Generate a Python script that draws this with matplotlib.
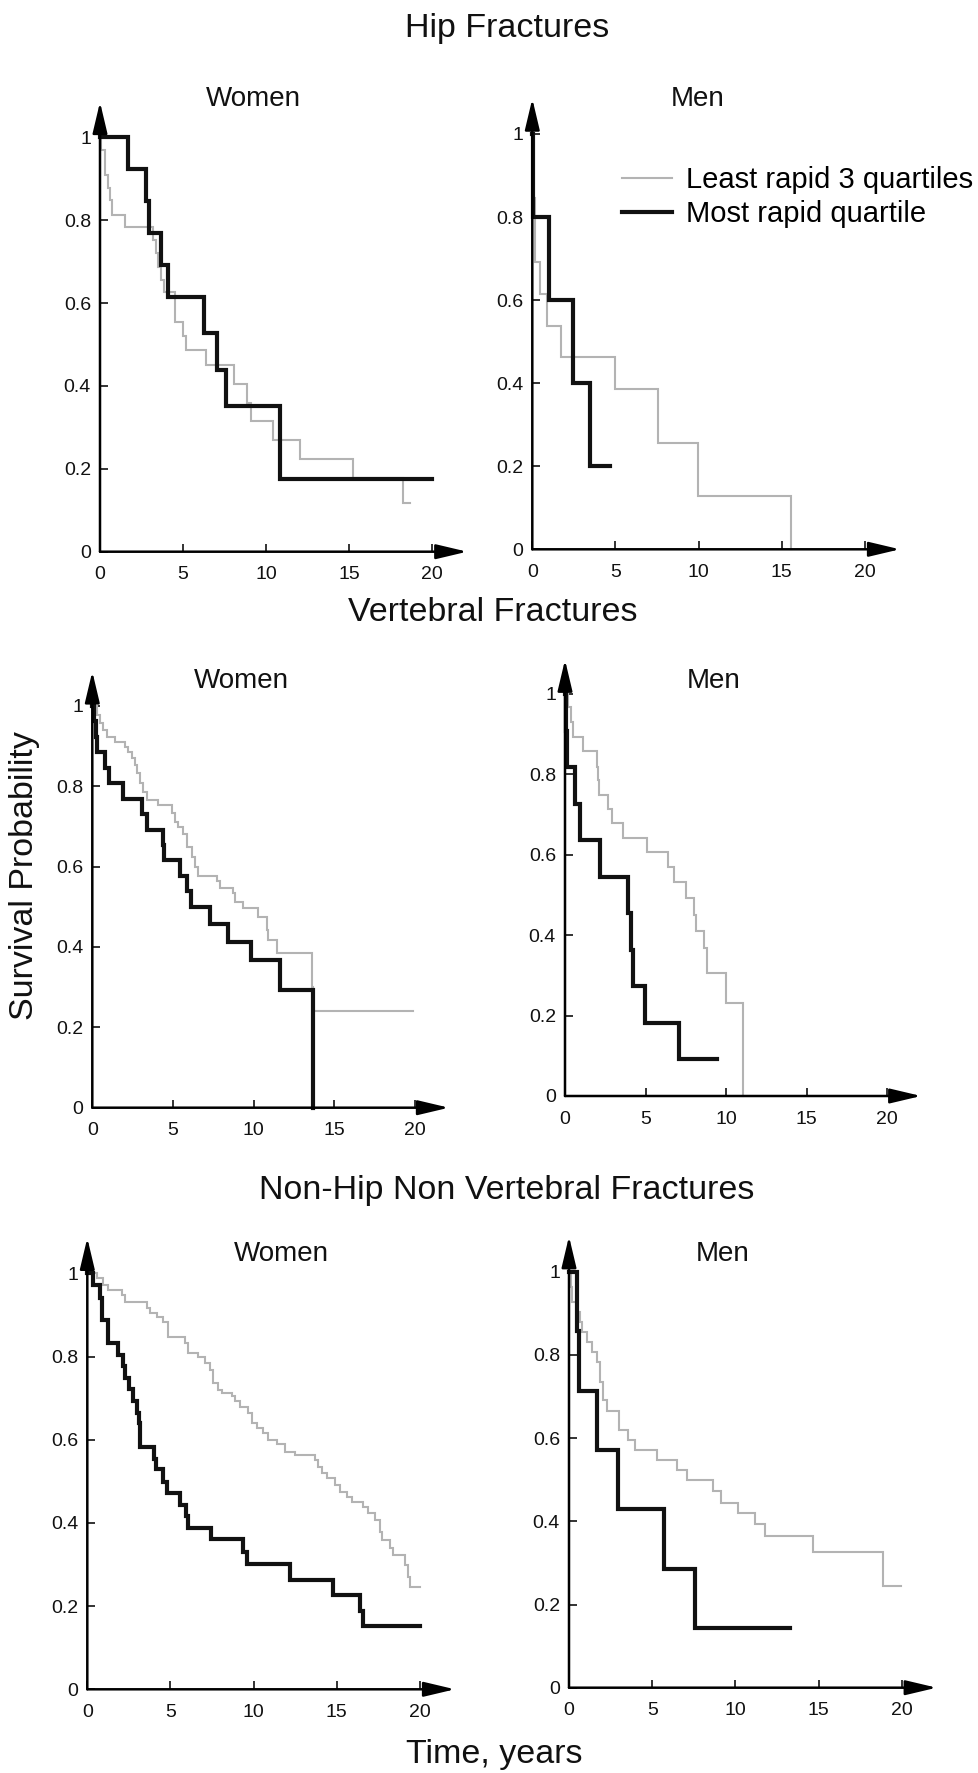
import matplotlib
matplotlib.use('Agg')
import matplotlib.pyplot as plt

plt.rcParams['font.family'] = ['Liberation Sans', 'DejaVu Sans']

W, H = 979, 1773

# ---- data: Kaplan-Meier steps (time in years, survival) ----
# Hip, women
hip_w_slow_t = [0, 0.05, 0.3, 0.5, 0.6, 0.74, 1.5, 3.17, 3.37, 3.51, 3.65, 3.85, 4.51,
                5.02, 5.18, 6.38, 8.06, 8.83, 9.07, 10.43, 12.04, 15.25, 18.26]
hip_w_slow_s = [1.0, 0.969, 0.909, 0.877, 0.849, 0.812, 0.784, 0.752, 0.72, 0.688, 0.656,
                0.626, 0.555, 0.52, 0.487, 0.45, 0.405, 0.36, 0.315, 0.27, 0.224, 0.179, 0.118]
hip_w_slow_end = 18.66
hip_w_fast_t = [0, 1.67, 2.77, 2.97, 3.67, 4.11, 6.28, 7.02, 7.56, 10.83]
hip_w_fast_s = [1.0, 0.923, 0.846, 0.769, 0.692, 0.615, 0.527, 0.439, 0.351, 0.175]
hip_w_fast_end = 20.0

# Hip, men
hip_m_slow_t = [0, 0.06, 0.16, 0.46, 0.9, 1.7, 4.97, 7.53, 9.98, 15.55]
hip_m_slow_s = [1.0, 0.846, 0.692, 0.615, 0.538, 0.462, 0.385, 0.256, 0.128, 0.0]
hip_m_slow_end = 15.55
hip_m_fast_t = [0, 0.05, 1.0, 2.46, 3.47]
hip_m_fast_s = [1.0, 0.8, 0.6, 0.4, 0.2]
hip_m_fast_end = 4.67

# Vertebral, women
vert_w_slow_t = [0, 0.27, 0.48, 0.68, 0.89, 1.40, 2.02, 2.23, 2.44, 2.64, 2.79, 2.95, 3.16,
                 3.37, 4.09, 4.92, 5.12, 5.33, 5.64, 5.85, 6.16, 6.36, 6.57, 7.71, 7.91,
                 8.74, 8.84, 9.36, 10.29, 10.81, 10.91, 11.43, 13.60, 13.70]
vert_w_slow_s = [1.0, 0.977, 0.956, 0.939, 0.923, 0.910, 0.898, 0.886, 0.869, 0.852, 0.832,
                 0.807, 0.786, 0.765, 0.753, 0.732, 0.711, 0.699, 0.682, 0.649, 0.624, 0.600,
                 0.576, 0.565, 0.546, 0.533, 0.512, 0.496, 0.475, 0.442, 0.417, 0.386,
                 0.301, 0.241]
vert_w_slow_end = 19.9
vert_w_fast_t = [0, 0.12, 0.2, 0.27, 0.79, 1.05, 1.88, 3.06, 3.37, 4.4, 4.46, 5.43, 5.85,
                 6.1, 7.29, 8.39, 9.81, 11.63, 13.7]
vert_w_fast_s = [1.0, 0.962, 0.923, 0.885, 0.846, 0.808, 0.769, 0.731, 0.692, 0.654, 0.615,
                 0.577, 0.538, 0.5, 0.458, 0.413, 0.367, 0.294, 0.0]
vert_w_fast_end = 13.7

# Vertebral, men
vert_m_slow_t = [0, 0.21, 0.35, 0.52, 1.14, 2.01, 2.07, 2.13, 2.69, 2.94, 3.58, 5.07, 6.37,
                 6.76, 7.51, 8.00, 8.13, 8.62, 8.79, 9.97, 11.07]
vert_m_slow_s = [1.0, 0.968, 0.931, 0.894, 0.857, 0.819, 0.786, 0.749, 0.713, 0.678, 0.641,
                 0.607, 0.570, 0.533, 0.493, 0.450, 0.410, 0.367, 0.307, 0.231, 0.0]
vert_m_slow_end = 11.07
vert_m_fast_t = [0, 0.05, 0.12, 0.62, 0.93, 2.17, 3.93, 4.1, 4.24, 4.96, 7.09]
vert_m_fast_s = [1.0, 0.909, 0.818, 0.727, 0.636, 0.545, 0.455, 0.364, 0.273, 0.182, 0.091]
vert_m_fast_end = 9.41

# Non-hip non-vertebral, women
nhnv_w_slow_t = [0, 0.56, 0.96, 1.26, 2.06, 2.26, 3.57, 3.77, 4.17, 4.57, 4.87, 5.87, 6.07,
                 6.67, 7.07, 7.37, 7.58, 7.88, 8.08, 8.68, 8.88, 9.18, 9.68, 9.88, 10.18,
                 10.58, 10.88, 11.38, 11.88, 12.48, 13.69, 13.89, 14.09, 14.39, 14.89, 15.19,
                 15.59, 15.89, 16.59, 16.89, 17.29, 17.60, 17.70, 18.20, 18.40, 19.10, 19.30,
                 19.40]
nhnv_w_slow_s = [1.0, 0.988, 0.972, 0.960, 0.948, 0.932, 0.916, 0.904, 0.896, 0.884, 0.848,
                 0.832, 0.808, 0.798, 0.784, 0.768, 0.736, 0.720, 0.712, 0.704, 0.692, 0.679,
                 0.665, 0.639, 0.627, 0.615, 0.599, 0.590, 0.571, 0.563, 0.551, 0.535, 0.519,
                 0.507, 0.491, 0.475, 0.463, 0.451, 0.439, 0.423, 0.407, 0.379, 0.359, 0.339,
                 0.323, 0.299, 0.271, 0.247]
nhnv_w_slow_end = 20.0
nhnv_w_fast_t = [0, 0.36, 0.76, 0.86, 1.26, 1.86, 2.12, 2.26, 2.53, 2.77, 2.97, 3.09, 3.17,
                 4.01, 4.13, 4.57, 4.77, 5.57, 5.93, 6.07, 7.41, 9.38, 9.58, 12.18, 14.79,
                 16.39, 16.59]
nhnv_w_fast_s = [1.0, 0.972, 0.940, 0.888, 0.833, 0.804, 0.776, 0.748, 0.721, 0.692, 0.665,
                 0.639, 0.583, 0.553, 0.529, 0.499, 0.473, 0.443, 0.417, 0.387, 0.361, 0.331,
                 0.301, 0.263, 0.227, 0.189, 0.151]
nhnv_w_fast_end = 20.0

# Non-hip non-vertebral, men
nhnv_m_slow_t = [0, 0.10, 0.20, 0.46, 0.66, 0.76, 1.06, 1.36, 1.66, 1.86, 2.06, 2.26, 3.01,
                 3.57, 3.97, 5.27, 6.47, 7.07, 8.64, 9.12, 10.18, 11.18, 11.78, 14.65, 18.90]
nhnv_m_slow_s = [1.0, 0.964, 0.928, 0.904, 0.880, 0.856, 0.832, 0.808, 0.784, 0.736, 0.691,
                 0.666, 0.619, 0.595, 0.571, 0.547, 0.523, 0.499, 0.474, 0.445, 0.421, 0.393,
                 0.365, 0.327, 0.244]
nhnv_m_slow_end = 19.96
nhnv_m_fast_t = [0, 0.5, 0.62, 1.7, 2.97, 5.71, 7.58]
nhnv_m_fast_s = [1.0, 0.857, 0.714, 0.571, 0.429, 0.286, 0.143]
nhnv_m_fast_end = 13.29

x_ticks = [0, 5, 10, 15, 20]
y_ticks = [0, 0.2, 0.4, 0.6, 0.8, 1]
y_tick_labels = ['0', '0.2', '0.4', '0.6', '0.8', '1']
legend_labels = ['Least rapid 3 quartiles', 'Most rapid quartile']

GRAY = '#b3b3b3'
BLACK = '#111111'

# panel layout in pixels: origin x, origin y, x at 20, y at 1, sub-title x, sub-title baseline
panels = [
    (100.0, 551.7, 432.3, 137.3, 253, 106, 'Women',
     (hip_w_slow_t, hip_w_slow_s, hip_w_slow_end), (hip_w_fast_t, hip_w_fast_s, hip_w_fast_end)),
    (532.3, 549.3, 865.0, 134.0, 698, 106, 'Men',
     (hip_m_slow_t, hip_m_slow_s, hip_m_slow_end), (hip_m_fast_t, hip_m_fast_s, hip_m_fast_end)),
    (92.3, 1107.7, 415.0, 705.7, 241, 688, 'Women',
     (vert_w_slow_t, vert_w_slow_s, vert_w_slow_end), (vert_w_fast_t, vert_w_fast_s, vert_w_fast_end)),
    (565.0, 1096.0, 887.3, 694.0, 714, 688, 'Men',
     (vert_m_slow_t, vert_m_slow_s, vert_m_slow_end), (vert_m_fast_t, vert_m_fast_s, vert_m_fast_end)),
    (87.3, 1689.3, 420.0, 1273.3, 281, 1261, 'Women',
     (nhnv_w_slow_t, nhnv_w_slow_s, nhnv_w_slow_end), (nhnv_w_fast_t, nhnv_w_fast_s, nhnv_w_fast_end)),
    (569.0, 1687.7, 901.7, 1271.7, 723, 1261, 'Men',
     (nhnv_m_slow_t, nhnv_m_slow_s, nhnv_m_slow_end), (nhnv_m_fast_t, nhnv_m_fast_s, nhnv_m_fast_end)),
]

fig = plt.figure(figsize=(W / 100, H / 100), dpi=100)


def fx(px):
    return px / W


def fy(py):
    return 1 - py / H


axes = []
for ox, oy, x20, y1, tx, ty, sub, slow, fast in panels:
    ax = fig.add_axes([fx(ox), fy(oy), (x20 - ox) / W, (oy - y1) / H])
    ax.set_xlim(0, 20)
    ax.set_ylim(0, 1)
    for sp in ax.spines.values():
        sp.set_visible(False)
    ax.patch.set_alpha(0)

    for (t, s, end), col, lw in [(slow, GRAY, 1.5), (fast, BLACK, 3.0)]:
        ax.step(t + [end], s + [s[-1]], where='post', color=col, lw=lw,
                clip_on=False, solid_joinstyle='miter')

    # axes drawn as arrows
    arrow = dict(arrowstyle='-|>,head_length=1.9,head_width=0.45', lw=1.8, color='black',
                 shrinkA=0, shrinkB=0, mutation_scale=10)
    ax.annotate('', xy=(22.1, 0), xytext=(0, 0), arrowprops=arrow, annotation_clip=False)
    ax.annotate('', xy=(0, 1.085), xytext=(0, 0), arrowprops=arrow, annotation_clip=False)

    ax.set_xticks(x_ticks)
    ax.set_xticklabels([str(v) for v in x_ticks])
    ax.set_yticks(y_ticks)
    ax.set_yticklabels(y_tick_labels)
    ax.tick_params(axis='both', direction='in', length=5.5, width=1.2, labelsize=14,
                   colors='#111111')
    ax.tick_params(axis='x', pad=10.5)
    ax.tick_params(axis='y', pad=6.5)

    fig.text(fx(tx), fy(ty), sub, fontsize=20, ha='center', va='baseline', color='#111111')
    axes.append(ax)

# legend in the hip / men panel
h = axes[1].get_lines()
axes[1].legend(h[:2], legend_labels, loc='upper left',
               bbox_to_anchor=(fx(621.7), fy(166)), bbox_transform=fig.transFigure,
               frameon=False, fontsize=21, handlelength=1.71, handletextpad=0.5,
               labelspacing=0.2, borderpad=0, borderaxespad=0)

fig.text(fx(507), fy(37.3), 'Hip Fractures', fontsize=24.5, ha='center', va='baseline',
         color='#111111')
fig.text(fx(492.5), fy(620.7), 'Vertebral Fractures', fontsize=24.5, ha='center',
         va='baseline', color='#111111')
fig.text(fx(507), fy(1199.5), 'Non-Hip Non Vertebral Fractures', fontsize=24.5, ha='center',
         va='baseline', color='#111111')
fig.text(fx(494), fy(1763), 'Time, years', fontsize=24.5, ha='center', va='baseline',
         color='#111111')
fig.text(fx(25), fy(876), 'Survival Probability', fontsize=24.5, ha='center', va='center',
         rotation=90, color='#111111')

fig.savefig('out.png', dpi=100)
